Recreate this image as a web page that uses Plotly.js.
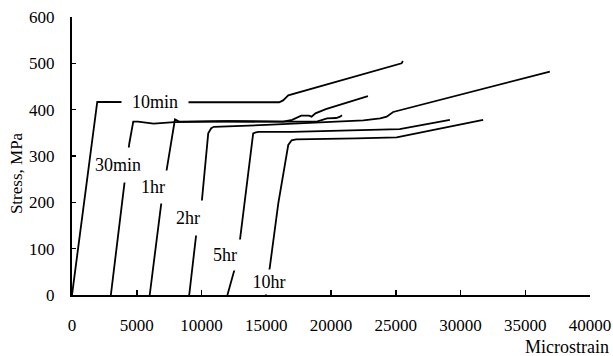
<!DOCTYPE html>
<html>
<head>
<meta charset="utf-8">
<script src="https://cdn.plot.ly/plotly-3.0.1.min.js"></script>
<style>html,body{margin:0;padding:0;background:#fff;}#chart{width:613px;height:356px;}</style>
</head>
<body>
<div id="chart"></div>
<script>
// Strain (microstrain) and stress (MPa) for each ageing time
var strain10min = [0, 1950, 9000, 16000, 16300, 16700, 25450, 25550];
var stress10min = [0, 417, 416, 416, 420, 431, 500, 505];

var strain30min = [3000, 4090, 4425, 4730, 5100, 6300, 7900, 12000, 16300, 17000, 17700, 18300, 18500, 18800, 19600, 22850];
var stress30min = [0, 255, 327, 374, 374, 370, 373, 375, 374, 378, 387, 387, 385, 392, 401, 429];

var strain1hr = [6000, 6925, 7310, 7950, 8300, 12000, 16000, 18900, 19700, 20400, 20700, 20850];
var stress1hr = [0, 205, 270, 379, 374, 375, 374, 374, 381, 382, 385, 388];

var strain2hr = [9050, 9630, 10010, 10520, 10750, 10950, 15000, 19000, 21200, 22500, 23800, 24300, 24800, 28400, 36900];
var stress2hr = [0, 140, 198, 349, 360, 363, 367, 372, 374, 377, 381, 385, 395, 421, 482];

var strain5hr = [12000, 12580, 12970, 13990, 14200, 14400, 17000, 20000, 24500, 25300, 29180];
var stress5hr = [0, 58, 119, 349, 351, 352, 352, 354, 356, 358, 378];

var strain10hr = [14950, 15280, 15930, 16700, 16960, 17300, 22000, 25070, 31750];
var stress10hr = [0, 61, 198, 324, 334, 336, 338, 340, 378];

// Curve labels: [text, strain, stress]
var labelText = ["10min", "30min", "1hr", "2hr", "5hr", "10hr"];
var labelX = [6400, 3580, 6280, 8980, 11810, 15210];
var labelY = [417, 280, 234, 166, 86, 28];
var labelW = [66, 48, 30, 34, 34, 42];
var labelH = [20, 34, 32, 34, 30, 24];

var xTicks = [0, 5000, 10000, 15000, 20000, 25000, 30000, 35000, 40000];
var yTicks = [0, 100, 200, 300, 400, 500, 600];

var FONT = "'Liberation Serif', 'Times New Roman', serif";
var lineStyle = {color: '#000', width: 1.8};

function tr(x, y) {
  return {x: x, y: y, type: 'scatter', mode: 'lines', line: lineStyle, hoverinfo: 'skip', showlegend: false};
}
var data = [
  tr(strain10min, stress10min), tr(strain30min, stress30min), tr(strain1hr, stress1hr),
  tr(strain2hr, stress2hr), tr(strain5hr, stress5hr), tr(strain10hr, stress10hr)
];

var annotations = labelText.map(function (t, i) {
  return {
    text: t, x: labelX[i], y: labelY[i], xref: 'x', yref: 'y',
    showarrow: false, bgcolor: '#fff', borderpad: 0,
    width: labelW[i], height: labelH[i],
    font: {family: FONT, size: 18, color: '#000'}
  };
});
annotations.push({
  text: 'Microstrain', xref: 'paper', yref: 'paper', x: 0.956, y: -0.187,
  xanchor: 'center', yanchor: 'middle', showarrow: false,
  font: {family: FONT, size: 18, color: '#000'}
});
annotations.push({
  text: 'Stress, MPa', xref: 'paper', yref: 'paper', x: -0.107, y: 0.437,
  xanchor: 'center', yanchor: 'middle', showarrow: false, textangle: -90,
  font: {family: FONT, size: 17, color: '#000'}
});

var layout = {
  width: 613, height: 356,
  margin: {l: 72, r: 23, t: 17, b: 61, pad: 0},
  paper_bgcolor: '#fff', plot_bgcolor: '#fff',
  showlegend: false,
  font: {family: FONT, size: 17, color: '#000'},
  xaxis: {
    range: [0, 40000], tickmode: 'array', tickvals: xTicks, ticktext: xTicks.map(String),
    showgrid: false, zeroline: false, showline: true, linecolor: '#000', linewidth: 2,
    ticks: 'inside', ticklen: 5, tickwidth: 1.5, tickcolor: '#000',
    ticklabelstandoff: 14, tickfont: {family: FONT, size: 17, color: '#000'}
  },
  yaxis: {
    range: [0, 600], tickmode: 'array', tickvals: yTicks, ticktext: yTicks.map(String),
    showgrid: false, zeroline: false, showline: true, linecolor: '#000', linewidth: 2,
    ticks: 'inside', ticklen: 4, tickwidth: 1.5, tickcolor: '#000',
    ticklabelstandoff: 12, tickfont: {family: FONT, size: 17, color: '#000'}
  },
  annotations: annotations
};

Plotly.newPlot('chart', data, layout, {staticPlot: true, displayModeBar: false});
</script>
</body>
</html>
